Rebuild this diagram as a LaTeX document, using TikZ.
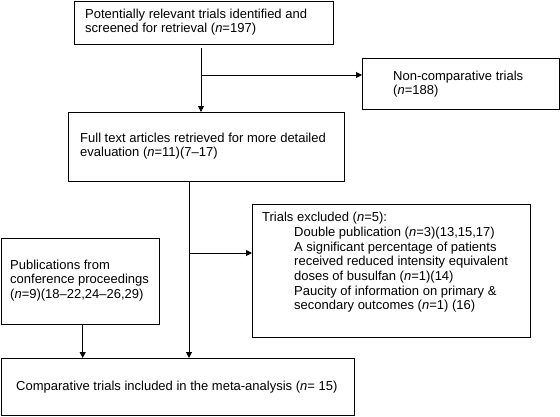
\documentclass[tikz,border=0pt]{standalone}
\usepackage{fontspec}
\setmainfont{Liberation Sans}
\usetikzlibrary{arrows.meta}
\tikzset{
  frame/.style={draw, line width=1pt, rectangle, anchor=north west, inner sep=0pt},
  txt/.style={anchor=west, align=left, inner sep=0pt,
    font=\fontsize{13}{14.7}\selectfont},
  link/.style={line width=1pt},
  arr/.style={line width=1pt, -{Triangle[length=6pt,width=6pt]}}
}
\begin{document}
\begin{tikzpicture}[x=1pt,y=-1pt]
\useasboundingbox (0,0) rectangle (560,416);
% boxes
\node[frame, minimum width=259pt, minimum height=43pt] (b1) at (74,0.5) {};
\node[frame, minimum width=197pt, minimum height=51pt] (b3) at (362,58) {};
\node[frame, minimum width=276pt, minimum height=69pt] (b2) at (68,112) {};
\node[frame, minimum width=278pt, minimum height=133pt] (b4) at (252,204) {};
\node[frame, minimum width=158pt, minimum height=86pt] (b5) at (1,238) {};
\node[frame, minimum width=353pt, minimum height=57pt] (b6) at (1,358) {};
% texts
\node[txt] (t1) at (85,22)
  {Potentially relevant trials identified and\\screened for retrieval (\textit{n}=197)};
\node[txt] (t3) at (393,84)
  {Non-comparative trials\\(\textit{n}=188)};
\node[txt] (t2) at (80,146)
  {Full text articles retrieved for more detailed\\evaluation (\textit{n}=11)(7--17)};
\node[txt] (t4) at (262,262.5)
  {Trials excluded (\textit{n}=5):\\
   \hspace*{32pt}Double publication (\textit{n}=3)(13,15,17)\\
   \hspace*{32pt}A significant percentage of patients\\
   \hspace*{32pt}received reduced intensity equivalent\\
   \hspace*{32pt}doses of busulfan (\textit{n}=1)(14)\\
   \hspace*{32pt}Paucity of information on primary \&\\
   \hspace*{32pt}secondary outcomes (\textit{n}=1) (16)};
\node[txt] (t5) at (10,280.5)
  {Publications from\\conference proceedings\\(\textit{n}=9)(18--22,24--26,29)};
\node[txt] (t6) at (16,386.7)
  {Comparative trials included in the meta-analysis (\textit{n}= 15)};
% junctions
\coordinate (j1) at (201,75);
\coordinate (j2) at (189,253);
\coordinate (j3) at (82.7,330);
% connectors
\draw[link] ([yshift=-3pt]b1.south -| j1) -- (j1);
\draw[arr] (j1) -- (b2.north -| j1);
\draw[arr] (j1) -- (j1 -| b3.west);
\draw[link] (b2.south -| j2) -- (j2);
\draw[arr] (j2) -- (b6.north -| j2);
\draw[arr] (j2) -- (j2 -| b4.west);
\draw[arr] (b5.south -| j3) -- (b6.north -| j3);
\end{tikzpicture}
\end{document}
